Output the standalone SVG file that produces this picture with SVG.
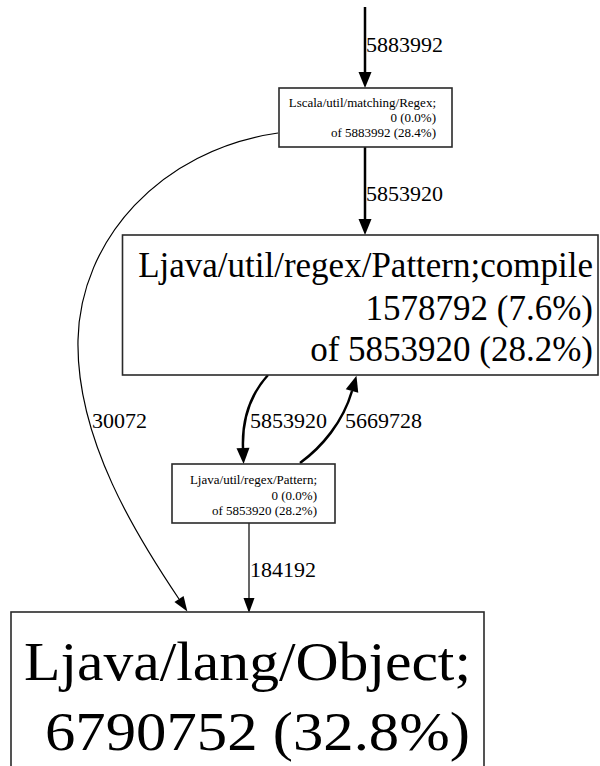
<svg xmlns="http://www.w3.org/2000/svg" width="600" height="766" viewBox="0 0 600 766" font-family="'Liberation Serif', 'DejaVu Serif', 'Times New Roman', Times, serif">
<style>
.box{fill:#fff;stroke:#2a2a2a;stroke-width:1.6}
text{font-family:'Liberation Serif','DejaVu Serif','Times New Roman',Times,serif;fill:#000}
.sm{font-size:13px;text-anchor:end}
.md{font-size:35px;text-anchor:end}
.lbl{font-size:22px}
.thick{fill:none;stroke:#000;stroke-width:2.5}
.thin{fill:none;stroke:#000;stroke-width:1.2}
</style>
<defs>
<marker id="ahk" markerUnits="userSpaceOnUse" markerWidth="17" markerHeight="13" refX="0" refY="6.5" orient="auto" overflow="visible">
<path d="M0,0 L16,6.5 L0,13 z" fill="#000"/>
</marker>
<marker id="aht" markerUnits="userSpaceOnUse" markerWidth="16" markerHeight="12" refX="0" refY="5.5" orient="auto" overflow="visible">
<path d="M0,0 L15,5.5 L0,11 z" fill="#000"/>
</marker>
</defs>
<rect width="600" height="766" fill="#fff"/>
<g id="edges">
<path class="thick" d="M365,7 L365,72" marker-end="url(#ahk)"/>
<text class="lbl" x="366" y="52">5883992</text>
<path class="thick" d="M365,147 L365,219" marker-end="url(#ahk)"/>
<text class="lbl" x="366" y="201">5853920</text>
<path class="thick" d="M268,375 C250,395 242,420 243,448" marker-end="url(#ahk)"/>
<text class="lbl" x="250" y="428">5853920</text>
<path class="thick" d="M300,463 C322,447 343,422 352,391" marker-end="url(#ahk)"/>
<text class="lbl" x="345" y="428">5669728</text>
<path class="thin" d="M278,133 C160,150 80,240 78,340 C76,440 138,538 179,599" marker-end="url(#aht)"/>
<text class="lbl" x="92" y="428">30072</text>
<path class="thin" d="M249,523 L249,598" marker-end="url(#aht)"/>
<text class="lbl" x="250" y="577">184192</text>
</g>
<g id="node-regex">
<rect class="box" x="279" y="88" width="173" height="59"/>
<text class="sm" x="436" y="107">Lscala/util/matching/Regex;</text>
<text class="sm" x="436" y="122">0 (0.0%)</text>
<text class="sm" x="436" y="137">of 5883992 (28.4%)</text>
</g>
<g id="node-compile">
<rect class="box" x="122.5" y="235" width="475.5" height="140"/>
<text class="md" x="593" y="277">Ljava/util/regex/Pattern;compile</text>
<text class="md" x="593" y="320">1578792 (7.6%)</text>
<text class="md" x="593" y="361">of 5853920 (28.2%)</text>
</g>
<g id="node-pattern">
<rect class="box" x="172" y="464" width="163" height="59"/>
<text class="sm" x="317" y="484">Ljava/util/regex/Pattern;</text>
<text class="sm" x="317" y="500">0 (0.0%)</text>
<text class="sm" x="317" y="515">of 5853920 (28.2%)</text>
</g>
<g id="node-object">
<rect class="box" x="11" y="612" width="473" height="180"/>
<text x="24" y="680" font-size="54" textLength="447" lengthAdjust="spacingAndGlyphs">Ljava/lang/Object;</text>
<text x="45" y="750" font-size="54" textLength="425" lengthAdjust="spacingAndGlyphs">6790752 (32.8%)</text>
</g>
</svg>
